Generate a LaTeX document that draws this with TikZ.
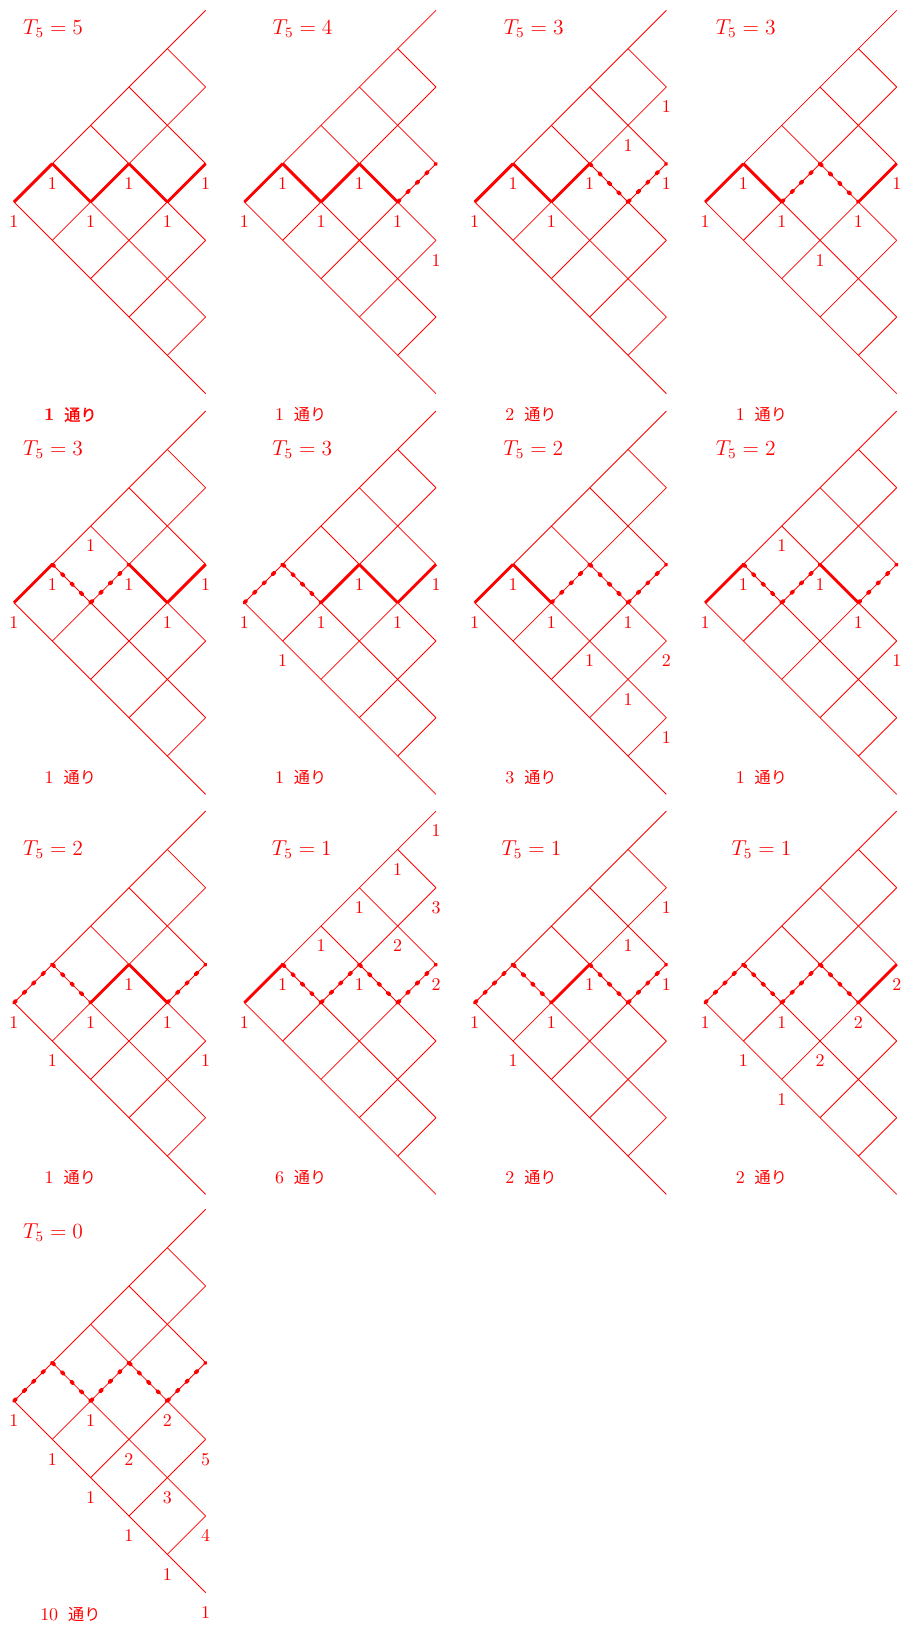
\documentclass[tikz,border=0pt]{standalone}
\usepackage{fontspec}
\newfontfamily\jpfont{Noto Sans CJK JP}
\newfontfamily\jpbold[FakeBold=1.2]{Noto Sans CJK JP}
\usepackage{tikz}

\tikzset{
  gridline/.style={red, line width=0.45pt},
  onseg/.style={red, line width=1.6pt},
  offseg/.style={red, line width=2.1pt, line cap=round, dash pattern=on 1.6pt off 5.8pt},
  num/.style={text=red, inner sep=0pt, shift={(0,-0.52)}},
  ttl/.style={text=red, inner sep=0pt, anchor=base, font=\fontsize{11.5}{14}\selectfont},
  cnt/.style={text=red, inner sep=0pt, anchor=base},
}
\newcommand{\way}{\hspace{5.5pt}{\jpfont\fontsize{9}{11}\selectfont 通り}}

% lattice of one panel
\newcommand{\lattice}{%
  \foreach \k in {0,...,4} {
    \draw[gridline] (\k,-\k) -- (5,{5-2*\k});
    \draw[gridline] (\k,\k) -- (5,{2*\k-5});
  }}
% the five steps of the zigzag
\newcommand{\zigzag}[5]{%
  \draw[#1] (0,0) -- (1,1);
  \draw[#2] (1,1) -- (2,0);
  \draw[#3] (2,0) -- (3,1);
  \draw[#4] (3,1) -- (4,0);
  \draw[#5] (4,0) -- (5,1);}

\begin{document}
\begin{tikzpicture}[x=0.75cm, y=0.75cm]
\useasboundingbox (-0.365,-37.177) rectangle (23.245,5.270);
% row 1
\begin{scope}[shift={(0,0)}, name prefix=a-]
\lattice
\zigzag{onseg}{onseg}{onseg}{onseg}{onseg}
\foreach \x/\y/\v in {0/0/1,1/1/1,2/0/1,3/1/1,4/0/1,5/1/1}
  \node[num] (n\x\y) at (\x,\y) {\v};
\node[ttl] (t) at (1.02,4.375) {$T_5=5$};
\node[cnt] (w) at (1.47,-5.705) {\textbf{1}\hspace{5.5pt}{\jpbold\fontsize{9}{11}\selectfont 通り}};
\end{scope}
\begin{scope}[shift={(6.01,0)}, name prefix=b-]
\lattice
\zigzag{onseg}{onseg}{onseg}{onseg}{offseg}
\foreach \x/\y/\v in {0/0/1,1/1/1,2/0/1,3/1/1,4/0/1,5/-1/1}
  \node[num] (n\x\y) at (\x,\y) {\v};
\node[ttl] (t) at (1.52,4.375) {$T_5=4$};
\node[cnt] (w) at (1.47,-5.705) {1\way};
\end{scope}
\begin{scope}[shift={(12.02,0)}, name prefix=c-]
\lattice
\zigzag{onseg}{onseg}{onseg}{offseg}{offseg}
\foreach \x/\y/\v in {0/0/1,1/1/1,2/0/1,3/1/1,4/2/1,5/3/1,5/1/1}
  \node[num] (n\x\y) at (\x,\y) {\v};
\node[ttl] (t) at (1.54,4.375) {$T_5=3$};
\node[cnt] (w) at (1.47,-5.705) {2\way};
\end{scope}
\begin{scope}[shift={(18.03,0)}, name prefix=d-]
\lattice
\zigzag{onseg}{onseg}{offseg}{offseg}{onseg}
\foreach \x/\y/\v in {0/0/1,1/1/1,2/0/1,3/-1/1,4/0/1,5/1/1}
  \node[num] (n\x\y) at (\x,\y) {\v};
\node[ttl] (t) at (1.06,4.375) {$T_5=3$};
\node[cnt] (w) at (1.47,-5.705) {1\way};
\end{scope}
% row 2
\begin{scope}[shift={(0,-10.454)}, name prefix=e-]
\lattice
\zigzag{onseg}{offseg}{offseg}{onseg}{onseg}
\foreach \x/\y/\v in {0/0/1,1/1/1,2/2/1,3/1/1,4/0/1,5/1/1}
  \node[num] (n\x\y) at (\x,\y) {\v};
\node[ttl] (t) at (1.02,3.853) {$T_5=3$};
\node[cnt] (w) at (1.47,-4.712) {1\way};
\end{scope}
\begin{scope}[shift={(6.01,-10.454)}, name prefix=f-]
\lattice
\zigzag{offseg}{offseg}{onseg}{onseg}{onseg}
\foreach \x/\y/\v in {0/0/1,1/-1/1,2/0/1,3/1/1,4/0/1,5/1/1}
  \node[num] (n\x\y) at (\x,\y) {\v};
\node[ttl] (t) at (1.51,3.853) {$T_5=3$};
\node[cnt] (w) at (1.47,-4.712) {1\way};
\end{scope}
\begin{scope}[shift={(12.02,-10.454)}, name prefix=g-]
\lattice
\zigzag{onseg}{onseg}{offseg}{offseg}{offseg}
\foreach \x/\y/\v in {0/0/1,1/1/1,2/0/1,3/-1/1,4/0/1,4/-2/1,5/-1/2,5/-3/1}
  \node[num] (n\x\y) at (\x,\y) {\v};
\node[ttl] (t) at (1.53,3.853) {$T_5=2$};
\node[cnt] (w) at (1.47,-4.712) {3\way};
\end{scope}
\begin{scope}[shift={(18.03,-10.454)}, name prefix=h-]
\lattice
\zigzag{onseg}{offseg}{offseg}{onseg}{offseg}
\foreach \x/\y/\v in {0/0/1,1/1/1,2/2/1,3/1/1,4/0/1,5/-1/1}
  \node[num] (n\x\y) at (\x,\y) {\v};
\node[ttl] (t) at (1.06,3.853) {$T_5=2$};
\node[cnt] (w) at (1.47,-4.712) {1\way};
\end{scope}
% row 3
\begin{scope}[shift={(0,-20.89)}, name prefix=i-]
\lattice
\zigzag{offseg}{offseg}{onseg}{onseg}{offseg}
\foreach \x/\y/\v in {0/0/1,1/-1/1,2/0/1,3/1/1,4/0/1,5/-1/1}
  \node[num] (n\x\y) at (\x,\y) {\v};
\node[ttl] (t) at (1.02,3.853) {$T_5=2$};
\node[cnt] (w) at (1.47,-4.712) {1\way};
\end{scope}
\begin{scope}[shift={(6.01,-20.89)}, name prefix=j-]
\lattice
\zigzag{onseg}{offseg}{offseg}{offseg}{offseg}
\foreach \x/\y/\v in {0/0/1,1/1/1,2/2/1,3/1/1,3/3/1,4/2/2,4/4/1,5/1/2,5/3/3,5/5/1}
  \node[num] (n\x\y) at (\x,\y) {\v};
\node[ttl] (t) at (1.50,3.853) {$T_5=1$};
\node[cnt] (w) at (1.47,-4.712) {6\way};
\end{scope}
\begin{scope}[shift={(12.02,-20.89)}, name prefix=k-]
\lattice
\zigzag{offseg}{offseg}{onseg}{offseg}{offseg}
\foreach \x/\y/\v in {0/0/1,1/-1/1,2/0/1,3/1/1,4/2/1,5/3/1,5/1/1}
  \node[num] (n\x\y) at (\x,\y) {\v};
\node[ttl] (t) at (1.48,3.853) {$T_5=1$};
\node[cnt] (w) at (1.47,-4.712) {2\way};
\end{scope}
\begin{scope}[shift={(18.03,-20.89)}, name prefix=l-]
\lattice
\zigzag{offseg}{offseg}{offseg}{offseg}{onseg}
\foreach \x/\y/\v in {0/0/1,1/-1/1,2/-2/1,2/0/1,3/-1/2,4/0/2,5/1/2}
  \node[num] (n\x\y) at (\x,\y) {\v};
\node[ttl] (t) at (1.47,3.853) {$T_5=1$};
\node[cnt] (w) at (1.47,-4.712) {2\way};
\end{scope}
% row 4
\begin{scope}[shift={(0,-31.28)}, name prefix=m-]
\lattice
\zigzag{offseg}{offseg}{offseg}{offseg}{offseg}
\foreach \x/\y/\v in {0/0/1,1/-1/1,2/0/1,2/-2/1,3/-1/2,3/-3/1,4/0/2,4/-2/3,4/-4/1,5/-1/5,5/-3/4,5/-5/1}
  \node[num] (n\x\y) at (\x,\y) {\v};
\node[ttl] (t) at (1.02,4.245) {$T_5=0$};
\node[cnt] (w) at (1.47,-5.72) {10\way};
\end{scope}
\end{tikzpicture}
\end{document}
